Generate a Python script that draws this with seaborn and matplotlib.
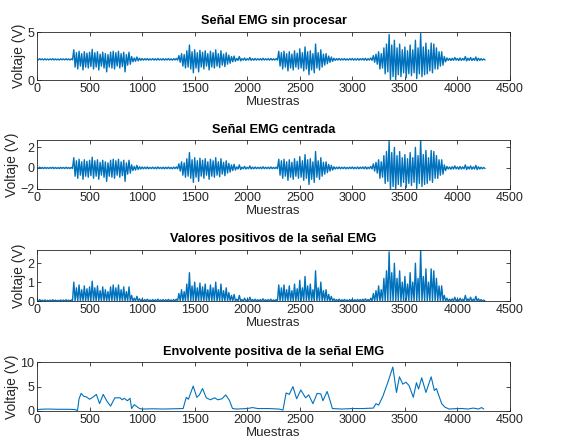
import numpy as np
import pandas as pd
import matplotlib
matplotlib.use("Agg")
import matplotlib.pyplot as plt
import seaborn as sns

# --- data (EMG signal, samples) ---
# centered signal: positive / negative peak per 25-sample bin (0 .. 4250)
peak_hi = [
    # rest 0-325
    0.04, 0.08, 0.05, 0.06, 0.04, 0.05, 0.07, 0.05, 0.04, 0.06, 0.05, 0.07, 0.05, 0.06,
    # burst 1 350-875
    1.0, 0.7, 0.85, 0.6, 0.8, 0.65, 0.75, 1.05, 0.7, 0.8, 0.55, 0.75, 0.6, 0.5,
    0.75, 0.85, 0.7, 0.85, 0.6, 0.75, 0.5, 0.75,
    # rest 900-1325
    0.3, 0.15, 0.25, 0.12, 0.1, 0.08, 0.1, 0.06, 0.08, 0.07, 0.1, 0.06, 0.08, 0.07,
    0.09, 0.06, 0.08, 0.1,
    # burst 2 1350-1850
    0.4, 0.6, 0.5, 0.9, 1.5, 0.8, 1.0, 0.7, 0.95, 0.75, 0.9, 0.6, 0.85, 0.7, 1.0,
    0.6, 0.9, 0.55, 0.7, 0.45, 0.3,
    # rest 1875-2275
    0.35, 0.1, 0.3, 0.08, 0.15, 0.07, 0.2, 0.08, 0.1, 0.07, 0.08, 0.12, 0.07, 0.08,
    0.1, 0.06, 0.08,
    # burst 3 2300-2800
    0.85, 0.7, 0.85, 0.6, 0.8, 0.55, 0.9, 0.65, 1.1, 0.7, 1.3, 0.8, 0.9, 0.6, 1.6,
    0.7, 1.0, 0.55, 0.6, 0.35, 0.25,
    # rest 2825-3175
    0.12, 0.08, 0.1, 0.07, 0.09, 0.06, 0.08, 0.1, 0.07, 0.09, 0.08, 0.1, 0.12, 0.08, 0.15,
    # burst 4 3200-3875
    0.4, 0.55, 0.8, 0.6, 1.2, 1.6, 2.6, 1.5, 2.0, 1.2, 1.6, 1.0, 1.3, 0.9, 1.5, 1.0,
    2.0, 1.2, 2.7, 1.3, 1.7, 1.0, 1.7, 1.6, 1.2, 0.8, 0.8, 0.3,
    # rest 3900-4250
    0.15, 0.1, 0.12, 0.2, 0.1, 0.15, 0.1, 0.3, 0.12, 0.2, 0.1, 0.25, 0.12, 0.08, 0.05,
]
peak_lo = [
    0.05, 0.04, 0.06, 0.05, 0.05, 0.04, 0.06, 0.05, 0.06, 0.04, 0.05, 0.05, 0.06, 0.05,
    0.8, 1.0, 0.7, 1.1, 0.8, 0.9, 0.75, 1.0, 0.8, 1.1, 0.7, 0.9, 1.3, 0.8,
    0.9, 1.0, 0.7, 0.9, 0.75, 1.3, 0.6, 0.5,
    0.25, 0.2, 0.15, 0.1, 0.08, 0.07, 0.08, 0.06, 0.07, 0.08, 0.06, 0.07, 0.08, 0.06,
    0.07, 0.08, 0.06, 0.08,
    0.3, 0.7, 0.9, 0.8, 1.0, 1.4, 0.9, 1.3, 0.8, 1.0, 0.7, 1.1, 0.8, 0.9, 0.7,
    0.85, 0.6, 0.75, 0.5, 0.4, 0.25,
    0.2, 0.1, 0.15, 0.08, 0.1, 0.07, 0.1, 0.08, 0.07, 0.06, 0.08, 0.07, 0.06, 0.08,
    0.07, 0.06, 0.07,
    0.7, 1.0, 0.8, 1.2, 0.9, 1.1, 0.8, 1.0, 0.9, 1.2, 1.0, 1.6, 1.1, 1.4, 0.9,
    1.1, 0.8, 0.6, 0.45, 0.3, 0.2,
    0.1, 0.07, 0.08, 0.06, 0.08, 0.07, 0.06, 0.08, 0.07, 0.08, 0.06, 0.08, 0.1, 0.07, 0.1,
    0.3, 0.5, 1.0, 0.9, 1.5, 1.3, 2.1, 1.8, 2.1, 1.6, 1.8, 1.4, 1.9, 1.5, 1.7, 1.4,
    2.0, 1.5, 1.8, 1.6, 1.5, 1.2, 1.4, 1.0, 1.0, 0.7, 0.6, 0.25,
    0.1, 0.12, 0.1, 0.08, 0.12, 0.1, 0.08, 0.15, 0.1, 0.12, 0.1, 0.15, 0.1, 0.08, 0.05,
]
baseline = 2.15  # DC level of the raw signal (V)

# positive envelope
env_x = [0, 30, 100, 200, 300, 360, 385, 400, 420, 445, 470, 500, 530, 565, 595,
         630, 665, 700, 740, 790, 810, 830, 860, 885, 900, 925, 950, 975, 1000,
         1100, 1200, 1300, 1390, 1420, 1440, 1486, 1520, 1545, 1575, 1610, 1650,
         1690, 1720, 1760, 1795, 1830, 1860, 1900, 2000, 2050, 2100, 2200, 2300,
         2340, 2370, 2400, 2435, 2470, 2510, 2555, 2585, 2625, 2665, 2700, 2720,
         2760, 2790, 2810, 2900, 3000, 3100, 3200, 3225, 3250, 3290, 3340, 3385,
         3420, 3448, 3480, 3510, 3540, 3580, 3610, 3630, 3660, 3700, 3750, 3780,
         3800, 3850, 3880, 3920, 4000, 4050, 4100, 4150, 4200, 4230, 4250]
env_y = [0.2, 0.35, 0.4, 0.35, 0.35, 0.3, 0.1, 2.5, 3.6, 3.0, 2.9, 2.4, 2.8, 3.4, 1.5,
         3.4, 2.0, 1.0, 2.7, 2.7, 2.3, 2.6, 2.1, 2.6, 0.5, 1.3, 0.9, 0.5, 0.4,
         0.45, 0.4, 0.45, 0.5, 2.8, 2.4, 5.1, 2.8, 3.3, 4.6, 2.7, 2.3,
         2.7, 2.3, 2.5, 3.3, 2.2, 0.5, 0.4, 0.5, 0.7, 0.5, 0.5, 0.4,
         0.2, 3.7, 3.4, 5.0, 2.5, 4.3, 2.7, 3.3, 1.5, 3.6, 3.5, 2.1,
         4.0, 2.0, 0.5, 0.4, 0.5, 0.5, 0.6, 1.5, 1.2, 3.0, 6.0, 9.0,
         3.8, 7.0, 5.5, 5.9, 5.2, 2.8, 5.8, 4.5, 6.8, 3.8, 7.0, 4.2,
         4.6, 1.5, 0.8, 0.4, 0.5, 0.5, 0.4, 0.6, 0.4, 0.7, 0.4]

# zig-zag between the bin peaks
bin_start = np.arange(len(peak_hi)) * 25
sig_x = np.ravel(np.column_stack([bin_start, bin_start + 12.5]))
centered = np.ravel(np.column_stack([peak_hi, -np.array(peak_lo)]))
raw = centered + baseline
positive = np.clip(centered, 0, None)

sns.set_theme(style="ticks")
plt.rcParams['font.family'] = ['Liberation Sans', 'DejaVu Sans']
blue = "#0072BD"
grey = "#262626"

fig = plt.figure(figsize=(5.74, 4.48), dpi=100)
boxes = [[0.0645, 0.8214, 0.824, 0.107],
         [0.0645, 0.578, 0.824, 0.109],
         [0.0645, 0.328, 0.824, 0.114],
         [0.0645, 0.0826, 0.824, 0.109]]

panels = [
    (sig_x, raw, "Señal EMG sin procesar", (0, 5), [0, 5], 1.0),
    (sig_x, centered, "Señal EMG centrada", (-2.05, 2.7), [-2, 0, 2], 1.0),
    (sig_x, positive, "Valores positivos de la señal EMG", (0, 2.7), [0, 1, 2], 1.0),
    (env_x, env_y, "Envolvente positiva de la señal EMG", (0, 10), [0, 5, 10], 0.8),
]

for box, (x, y, title, ylim, yticks, lw) in zip(boxes, panels):
    ax = fig.add_axes(box)
    df = pd.DataFrame({"Muestras": x, "Voltaje": y})
    sns.lineplot(data=df, x="Muestras", y="Voltaje", estimator=None,
                 color=blue, linewidth=lw, ax=ax)
    ax.set_xlim(0, 4500)
    ax.set_ylim(*ylim)
    ax.set_xticks(range(0, 4501, 500))
    ax.set_yticks(yticks)
    ax.set_title(title, fontsize=9.2, fontweight="bold", color="black", pad=5.5)
    ax.set_xlabel("Muestras", fontsize=9.5, color=grey, labelpad=1)
    ax.set_ylabel("Voltaje (V)", fontsize=10, color=grey, labelpad=1)
    ax.tick_params(direction="in", length=3, width=0.6, labelsize=9,
                   colors=grey, top=True, right=True, pad=2)
    for s in ax.spines.values():
        s.set_linewidth(0.6)
        s.set_color(grey)

fig.savefig("out.png", dpi=100)
